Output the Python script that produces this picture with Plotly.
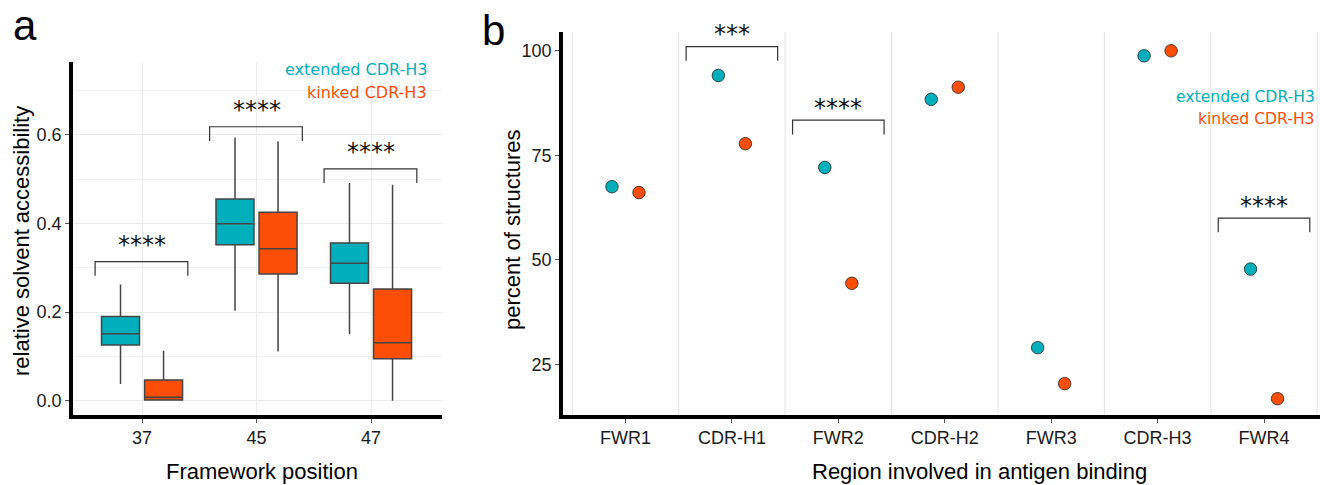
import plotly.graph_objects as go

W, H = 1320, 485

# ---------------- data ----------------
positions = ["37", "45", "47"]
ext_upper = [0.262, 0.594, 0.491]
ext_q3 = [0.190, 0.455, 0.356]
ext_med = [0.151, 0.399, 0.310]
ext_q1 = [0.126, 0.352, 0.265]
ext_lower = [0.038, 0.203, 0.150]

kink_upper = [0.113, 0.585, 0.487]
kink_q3 = [0.047, 0.425, 0.252]
kink_med = [0.008, 0.343, 0.131]
kink_q1 = [0.002, 0.286, 0.095]
kink_lower = [0.000, 0.111, 0.000]

a_sig_labels = ["****", "****", "****"]
a_bracket_y = [0.314, 0.618, 0.523]

regions = ["FWR1", "CDR-H1", "FWR2", "CDR-H2", "FWR3", "CDR-H3", "FWR4"]
ext_pct = [67.5, 94.1, 72.1, 88.4, 29.0, 98.8, 47.8]
kink_pct = [66.1, 77.8, 44.4, 91.3, 20.4, 100.0, 16.8]

b_sig_regions = ["CDR-H1", "FWR2", "FWR4"]
b_sig_labels = ["***", "****", "****"]
b_bracket_y = [101.0, 83.4, 60.0]

TEAL = "#00AFBB"
ORANGE = "#FC4E07"
FONT = "Liberation Sans, Arial, sans-serif"
LEGFONT = "DejaVu Sans, Verdana, sans-serif"


def px(x):
    return x / W


def py(y):
    return 1 - y / H


fig = go.Figure()

# ---------------- panel a: boxplots ----------------
fig.add_trace(go.Box(
    x=positions, q1=ext_q1, median=ext_med, q3=ext_q3,
    lowerfence=ext_lower, upperfence=ext_upper,
    name="extended CDR-H3", fillcolor=TEAL,
    line=dict(color="#444444", width=1.5), whiskerwidth=0,
    boxpoints=False, xaxis="x", yaxis="y", showlegend=False,
))
fig.add_trace(go.Box(
    x=positions, q1=kink_q1, median=kink_med, q3=kink_q3,
    lowerfence=kink_lower, upperfence=kink_upper,
    name="kinked CDR-H3", fillcolor=ORANGE,
    line=dict(color="#444444", width=1.5), whiskerwidth=0,
    boxpoints=False, xaxis="x", yaxis="y", showlegend=False,
))

# ---------------- panel b: dot plot ----------------
fig.add_trace(go.Scatter(
    x=regions, y=ext_pct, mode="markers", name="extended CDR-H3",
    marker=dict(color=TEAL, size=12.5, line=dict(color="#222", width=0.8)),
    offsetgroup="ext", xaxis="x2", yaxis="y2", showlegend=False,
))
fig.add_trace(go.Scatter(
    x=regions, y=kink_pct, mode="markers", name="kinked CDR-H3",
    marker=dict(color=ORANGE, size=12.5, line=dict(color="#222", width=0.8)),
    offsetgroup="kink", xaxis="x2", yaxis="y2", showlegend=False,
))

shapes = []
annotations = []

# brackets panel a
for i, (lab, yb) in enumerate(zip(a_sig_labels, a_bracket_y)):
    drop = 0.032
    shapes.append(dict(
        type="path", xref="x", yref="y",
        path=f"M {i-0.41},{yb-drop} L {i-0.41},{yb} L {i+0.4},{yb} L {i+0.4},{yb-drop}",
        line=dict(color="#333", width=1.2),
    ))
    annotations.append(dict(
        x=i, y=yb + 0.038, xref="x", yref="y", text=lab, showarrow=False,
        font=dict(family=LEGFONT, size=24, color="#111"), yanchor="middle",
    ))

# vertical separators panel b
for i in range(len(regions) + 1):
    shapes.append(dict(
        type="line", xref="x2", yref="y2 domain", x0=i - 0.5, x1=i - 0.5,
        y0=0, y1=1, line=dict(color="#e3e3e3", width=1), layer="below",
    ))

# brackets panel b
for reg, lab, yb in zip(b_sig_regions, b_sig_labels, b_bracket_y):
    i = regions.index(reg)
    drop = 3.4
    shapes.append(dict(
        type="path", xref="x2", yref="y2",
        path=f"M {i-0.43},{yb-drop} L {i-0.43},{yb} L {i+0.43},{yb} L {i+0.43},{yb-drop}",
        line=dict(color="#333", width=1.2),
    ))
    annotations.append(dict(
        x=i, y=yb + 3.0, xref="x2", yref="y2", text=lab, showarrow=False,
        font=dict(family=LEGFONT, size=24, color="#111"), yanchor="middle",
    ))

# legends as text
annotations += [
    dict(x=px(429), y=py(70), xref="paper", yref="paper", text="extended CDR-H3",
         showarrow=False, xanchor="right", yanchor="middle",
         font=dict(family=LEGFONT, size=16, color=TEAL)),
    dict(x=px(429), y=py(92), xref="paper", yref="paper", text="kinked CDR-H3",
         showarrow=False, xanchor="right", yanchor="middle",
         font=dict(family=LEGFONT, size=16, color=ORANGE)),
    dict(x=px(1317), y=py(97), xref="paper", yref="paper", text="extended CDR-H3",
         showarrow=False, xanchor="right", yanchor="middle",
         font=dict(family=LEGFONT, size=15.6, color=TEAL)),
    dict(x=px(1317), y=py(119), xref="paper", yref="paper", text="kinked CDR-H3",
         showarrow=False, xanchor="right", yanchor="middle",
         font=dict(family=LEGFONT, size=15.6, color=ORANGE)),
]

# panel labels & axis titles
annotations += [
    dict(x=px(25), y=py(25), xref="paper", yref="paper", text="a", showarrow=False,
         xanchor="center", yanchor="middle", font=dict(family=FONT, size=42, color="black")),
    dict(x=px(493), y=py(30), xref="paper", yref="paper", text="b", showarrow=False,
         xanchor="center", yanchor="middle", font=dict(family=FONT, size=42, color="black")),
    dict(x=px(261.5), y=py(471), xref="paper", yref="paper", text="Framework position",
         showarrow=False, xanchor="center", yanchor="middle",
         font=dict(family=FONT, size=22, color="black")),
    dict(x=px(979.5), y=py(471), xref="paper", yref="paper",
         text="Region involved in antigen binding", showarrow=False,
         xanchor="center", yanchor="middle", font=dict(family=FONT, size=22, color="black")),
    dict(x=px(21), y=py(241), xref="paper", yref="paper",
         text="relative solvent accessibility", showarrow=False, textangle=-90,
         xanchor="center", yanchor="middle", font=dict(family=FONT, size=22, color="black")),
    dict(x=px(512), y=py(230), xref="paper", yref="paper",
         text="percent of structures", showarrow=False, textangle=-90,
         xanchor="center", yanchor="middle", font=dict(family=FONT, size=22, color="black")),
]

axis_common = dict(
    showline=True, linecolor="black", linewidth=3.5, mirror=False,
    ticks="outside", ticklen=4, tickwidth=1, tickcolor="#555",
    tickfont=dict(family=FONT, size=18, color="#1a1a1a"),
    zeroline=False,
)

fig.update_layout(
    width=W, height=H,
    margin=dict(l=0, r=0, t=0, b=0),
    paper_bgcolor="white", plot_bgcolor="white",
    boxmode="group", boxgap=0.248, boxgroupgap=0.117,
    scattermode="group", scattergap=0.492,
    showlegend=False,
    xaxis=dict(
        domain=[px(73), px(442)], anchor="y", type="category",
        range=[-0.603, 2.62], showgrid=True, gridcolor="#ebebeb", gridwidth=1,
        **axis_common,
    ),
    yaxis=dict(
        domain=[py(415), py(62)], anchor="x", range=[-0.032, 0.764],
        tickvals=[0, 0.2, 0.4, 0.6], ticktext=["0.0", "0.2", "0.4", "0.6"],
        showgrid=True, gridcolor="#ebebeb", gridwidth=1,
        minor=dict(tickvals=[0.1, 0.3, 0.5, 0.7], showgrid=True,
                   gridcolor="#f2f2f2", gridwidth=1, ticks=""),
        **axis_common,
    ),
    xaxis2=dict(
        domain=[px(563), 1.0], anchor="y2", type="category",
        range=[-0.587, 6.526], showgrid=False,
        **axis_common,
    ),
    yaxis2=dict(
        domain=[py(415), py(32)], anchor="x2", range=[12.9, 104.5],
        tickvals=[25, 50, 75, 100], showgrid=False,
        **axis_common,
    ),
    shapes=shapes,
    annotations=annotations,
)

fig.write_html("out.html")
